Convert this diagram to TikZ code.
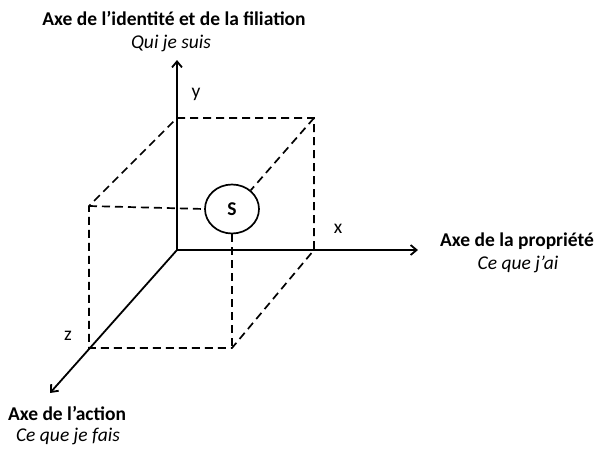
\documentclass[tikz,border=0pt]{standalone}
\usepackage{fontspec}
\setmainfont{Carlito}
\usetikzlibrary{arrows.meta,shapes.geometric}
\begin{document}
\begin{tikzpicture}[x=1pt,y=-1pt,
  axis/.style={line width=1.8pt,-{Straight Barb[length=6pt,width=10pt]}},
  dashln/.style={line width=1.7pt,dash pattern=on 8pt off 5pt},
  title/.style={font=\fontsize{19.5}{22}\selectfont\bfseries,inner sep=0pt},
  sub/.style={font=\fontsize{19.5}{22}\selectfont\itshape,inner sep=0pt},
  lbl/.style={font=\fontsize{19.5}{22}\selectfont,inner sep=0pt}]
\useasboundingbox (0,0) rectangle (595,451);
% coordinates
\coordinate (O) at (177,250);
\coordinate (Y) at (177,60);
\coordinate (X) at (418,250);
\coordinate (Z) at (50,393);
\coordinate (TB) at (177,118);
\coordinate (TR) at (314,118);
\coordinate (BR) at (314,250);
\coordinate (FL) at (89,206);
\coordinate (FB) at (89,348);
\coordinate (FR) at (232,348);
\node[draw,ellipse,line width=1.7pt,minimum width=54pt,minimum height=49pt,inner sep=0pt,font=\fontsize{19.5}{22}\selectfont\bfseries] (S) at (232,209) {S};
% dashed cube
\draw[dashln] (TB) -- (TR) -- (BR) -- (FR) -- (FB) -- (FL) -- (TB);
\draw[dashln] (FL) -- (S.west);
\draw[dashln] (TR) -- (S.45);
\draw[dashln] (S.south) -- (FR);
% axes
\draw[axis] (O) -- (Y);
\draw[axis] (O) -- (X);
\draw[axis] (O) -- (Z);
% labels
\node[lbl] (ly) at (196,94) {y};
\node[lbl] (lx) at (338,229) {x};
\node[lbl] (lz) at (68,336) {z};
\node[title] (ty) at (174,18) {Axe de l’identité et de la filiation};
\node[sub] (sy) at (171,43) {Qui je suis};
\node[title] (tx) at (517,241) {Axe de la propriété};
\node[sub] (sx) at (518,264) {Ce que j’ai};
\node[title] (tz) at (67,413) {Axe de l’action};
\node[sub] (sz) at (68,436) {Ce que je fais};
\end{tikzpicture}
\end{document}
